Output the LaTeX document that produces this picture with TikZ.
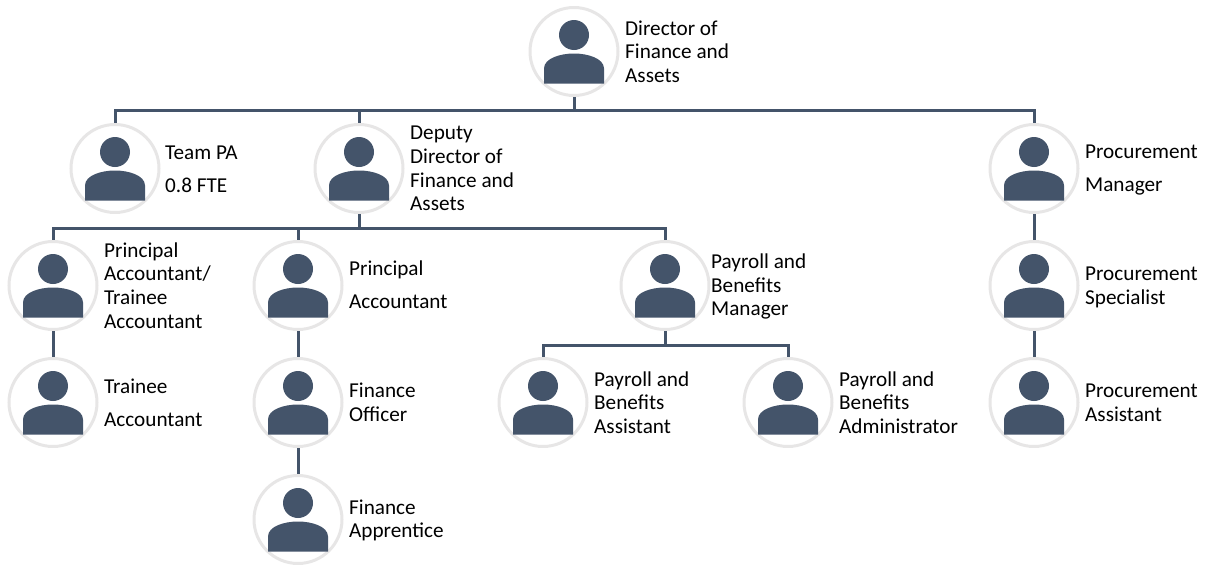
\documentclass[tikz,border=0pt]{standalone}
\usepackage{fontspec}
\setmainfont{Carlito}
\definecolor{slate}{HTML}{44546A}
\definecolor{ringgrey}{HTML}{E7E6E6}
\tikzset{
  x=1pt,y=-1pt,
  ring/.style={circle,draw=ringgrey,line width=3pt,fill=white,minimum size=88pt,inner sep=0pt,outer sep=1.5pt},
  label/.style={anchor=west,inner sep=0pt,align=left,font=\fontsize{21.2}{23.7}\selectfont},
  widelabel/.style={label,font=\fontsize{21.2}{33}\selectfont},
  link/.style={draw=slate,line width=3pt},
}
\newcommand{\person}[5][label]{%
  \node[ring] (#2) at (#3,#4) {};
  \begin{scope}[shift={(#3,#4)}]
    \fill[slate] (0,-16.5) circle[radius=15pt];
    \fill[slate] (-30,32) -- (-30,17) .. controls (-30,7) and (-14,2) .. (0,2)
       .. controls (14,2) and (30,7) .. (30,17) -- (30,32) -- cycle;
  \end{scope}
  \node[#1] (#2-text) at (#3+51,#4) {#5};
}
\begin{document}
\begin{tikzpicture}
\useasboundingbox (0,0) rectangle (1208,565);
\person{dir}{574}{51.5}{Director of\\Finance and\\Assets}
\person[widelabel,xshift=-1pt,yshift=-1pt]{pa}{115}{168.5}{Team PA\\0.8 FTE}
\person{dep}{359}{168.5}{Deputy\\Director of\\Finance and\\Assets}
\person[widelabel,yshift=-1.5pt]{pm}{1034}{168.5}{Procurement\\Manager}
\person{pat}{53}{285.5}{Principal\\Accountant/\\Trainee\\Accountant}
\person[widelabel,yshift=1pt]{pac}{298}{285.5}{Principal\\Accountant}
\person[label,xshift=-5pt,yshift=-1pt]{pay}{665}{285.5}{Payroll and\\Benefits\\Manager}
\person[label,yshift=-2pt]{ps}{1034}{285.5}{Procurement\\Specialist}
\person[widelabel]{tr}{53}{402.5}{Trainee\\Accountant}
\person{fo}{298}{402.5}{Finance\\Officer}
\person{pba}{543}{402.5}{Payroll and\\Benefits\\Assistant}
\person{pbd}{788}{402.5}{Payroll and\\Benefits\\Administrator}
\person{pra}{1034}{402.5}{Procurement\\Assistant}
\person[label,yshift=-1pt]{fa}{298}{519.5}{Finance\\Apprentice}
\foreach \a/\b in {dir/pa,dir/dep,dir/pm}
  \draw[link] (\a.south) -- ++(0,13) -| (\b.north);
\foreach \a/\b in {dep/pat,dep/pac,dep/pay}
  \draw[link] (\a.south) -- ++(0,14) -| (\b.north);
\foreach \a/\b in {pay/pba,pay/pbd}
  \draw[link] (\a.south) -- ++(0,14) -| (\b.north);
\foreach \a/\b in {pat/tr,pac/fo,fo/fa,pm/ps,ps/pra}
  \draw[link] (\a.south) -- (\b.north);
\end{tikzpicture}
\end{document}
